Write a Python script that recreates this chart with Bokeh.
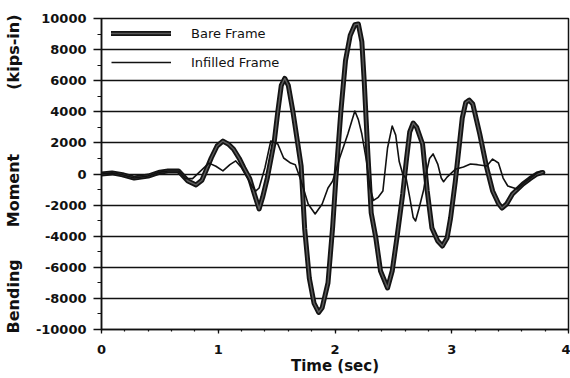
from bokeh.plotting import figure
from bokeh.models import Legend, LegendItem, SingleIntervalTicker, Range1d
from bokeh.embed import file_html
from bokeh.resources import INLINE

# Bare frame (thick line): time (sec), bending moment (kips-in)
bare_t = [0.00, 0.09, 0.18, 0.28, 0.40, 0.50, 0.57, 0.66, 0.74, 0.81, 0.86, 0.90,
          0.94, 0.99, 1.04, 1.09, 1.13, 1.18, 1.22, 1.27, 1.31, 1.35, 1.38, 1.42,
          1.48, 1.51, 1.54, 1.57, 1.60, 1.64, 1.68, 1.71, 1.74, 1.78, 1.82, 1.86,
          1.89, 1.94, 1.98, 2.01, 2.05, 2.09, 2.13, 2.17, 2.20, 2.23, 2.25, 2.28,
          2.31, 2.35, 2.39, 2.45, 2.49, 2.53, 2.58, 2.61, 2.64, 2.67, 2.70, 2.75,
          2.79, 2.83, 2.88, 2.92, 2.96, 2.99, 3.03, 3.09, 3.12, 3.15, 3.18, 3.24,
          3.30, 3.35, 3.40, 3.43, 3.47, 3.52, 3.61, 3.67, 3.73, 3.78]
bare_m = [0, 70, -50, -260, -130, 120, 190, 190, -450, -700, -400, 300,
          1030, 1800, 2120, 1900, 1610, 1000, 390, -300, -1300, -2250, -1500, -260,
          2100, 4000, 5700, 6150, 5700, 4000, 2000, 500, -3500, -6700, -8300, -8900,
          -8600, -7000, -3400, 0, 4000, 7300, 8900, 9600, 9650, 8500, 6000, 1500,
          -2500, -4120, -6240, -7330, -6240, -4120, -1290, 800, 2700, 3280, 3000, 1930,
          -1090, -3470, -4310, -4630, -4120, -2830, -500, 3600, 4600, 4750, 4500, 2570,
          390, -1090, -1900, -2190, -1930, -1290, -640, -300, 0, 100]

# Infilled frame (thin line)
infill_t = [0.00, 0.09, 0.18, 0.28, 0.40, 0.50, 0.57, 0.66, 0.72, 0.78, 0.85, 0.92,
            0.98, 1.04, 1.10, 1.15, 1.20, 1.25, 1.29, 1.32, 1.35, 1.40, 1.45, 1.51,
            1.56, 1.62, 1.66, 1.71, 1.77, 1.83, 1.89, 1.94, 1.98, 2.04, 2.11, 2.17,
            2.20, 2.23, 2.27, 2.30, 2.33, 2.37, 2.41, 2.45, 2.49, 2.52, 2.55, 2.58,
            2.61, 2.64, 2.67, 2.69, 2.72, 2.76, 2.78, 2.81, 2.84, 2.88, 2.91, 2.93,
            2.96, 3.03, 3.10, 3.16, 3.22, 3.30, 3.35, 3.40, 3.44, 3.48, 3.56, 3.64,
            3.73, 3.77]
infill_m = [0, 70, -50, -260, -130, 120, 190, 190, -300, -300, 200, 700,
            500, 200, 600, 840, 400, -260, -800, -1100, -900, 400, 2120, 1930,
            1030, 700, 600, -450, -1930, -2570, -1930, -900, -450, 1030, 2570, 4050,
            3500, 2570, 830, -900, -1700, -1500, -1100, 1670, 3090, 2500, 800, 0,
            -300, -1500, -2800, -3020, -2200, -1000, 0, 1000, 1290, 640, -260, -500,
            -200, 300, 450, 640, 600, 510, 960, 710, -260, -770, -960, -450,
            60, 190]

x_label = "Time (sec)"
y_label = "Bending\u2003\u2003Moment\u2003\u2003\u2003\u2003(kips-in)"
legend_labels = ["Bare Frame", "Infilled Frame"]
y_ticks = [-10000, -8000, -6000, -4000, -2000, 0, 2000, 4000, 6000, 8000, 10000]
y_tick_labels = ["-10000", "-8000", "-6000", "-4000", "-2000", "0",
                 "2000", "4000", "6000", "8000", "10000"]

p = figure(width=570, height=377, output_backend="svg", toolbar_location=None,
           x_range=Range1d(0, 4), y_range=Range1d(-10000, 10000),
           min_border_left=100, min_border_right=2, min_border_top=18,
           min_border_bottom=48, background_fill_color="white",
           border_fill_color="white")

p.xaxis.ticker = SingleIntervalTicker(interval=1, num_minor_ticks=5)
p.yaxis.ticker = SingleIntervalTicker(interval=2000, num_minor_ticks=2)
p.yaxis.major_label_overrides = {t: s for t, s in zip(y_ticks, y_tick_labels)}
p.xgrid.visible = False
p.ygrid.grid_line_color = "#111111"
p.ygrid.grid_line_width = 1.4

p.outline_line_color = "#111111"
p.outline_line_width = 1.5

for ax in (p.xaxis, p.yaxis):
    ax.axis_line_color = "#111111"
    ax.axis_line_width = 1.5
    ax.major_tick_line_color = "#111111"
    ax.minor_tick_line_color = "#111111"
    ax.major_tick_line_width = 1.3
    ax.minor_tick_line_width = 1.2
    ax.major_tick_in = 0
    ax.minor_tick_in = 0
    ax.major_label_text_font = "DejaVu Sans"
    ax.major_label_text_font_style = "bold"
    ax.major_label_text_font_size = "13px"
    ax.major_label_text_color = "#111111"
    ax.axis_label_text_font = "DejaVu Sans"
    ax.axis_label_text_font_style = "bold"
    ax.axis_label_text_font_size = "15px"
    ax.axis_label_text_color = "#111111"

p.yaxis.axis_label_text_font_size = "16px"

p.xaxis.major_tick_out = 4
p.xaxis.minor_tick_out = 2
p.xaxis.major_label_standoff = 11
p.xaxis.axis_label_standoff = 0
p.yaxis.major_tick_out = 8
p.yaxis.minor_tick_out = 4
p.yaxis.major_label_standoff = 7
p.yaxis.axis_label_standoff = 10

p.xaxis.axis_label = x_label
p.yaxis.axis_label = y_label

bare_outer = p.line(bare_t, bare_m, line_color="#141414", line_width=5,
                    line_join="round", line_cap="round")
bare_inner = p.line(bare_t, bare_m, line_color="#5a5a5a", line_width=1.4,
                    line_join="round", line_cap="round")
infill = p.line(infill_t, infill_m, line_color="#111111", line_width=1.6,
                line_join="round")

legend = Legend(items=[LegendItem(label=legend_labels[0], renderers=[bare_outer, bare_inner]),
                       LegendItem(label=legend_labels[1], renderers=[infill])],
                location=(10, 257), margin=0, padding=0,
                glyph_width=60, glyph_height=20, label_height=20, spacing=9,
                label_standoff=20, label_text_font="DejaVu Sans",
                label_text_font_size="13px", label_text_color="#111111",
                background_fill_alpha=0, border_line_alpha=0)
p.add_layout(legend, "center")

open("out.html", "w").write(file_html(p, INLINE))
